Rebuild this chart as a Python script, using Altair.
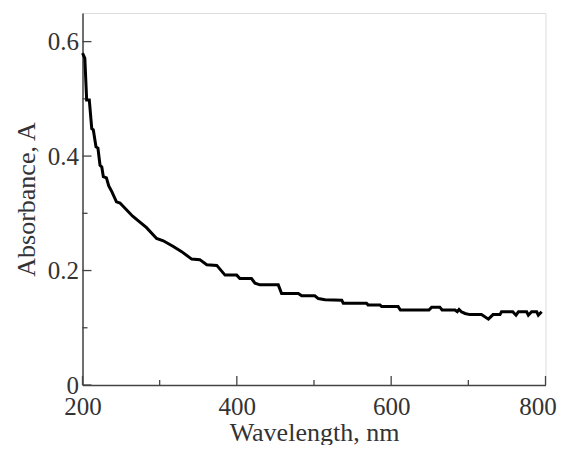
import altair as alt
import pandas as pd

wavelength = [200, 203, 205.4, 208.8, 212, 214, 217.5, 220, 222.7, 225, 227, 231, 234, 238, 244, 248.6,
              265, 283, 296, 304.7, 317.7, 328.5, 341.5, 352, 361, 374, 384.7, 399.8, 404, 419, 423.5,
              430, 453.7, 458, 479.7, 484, 501, 505.6, 514.3, 536, 538, 568, 570, 585.5, 587.7, 609,
              612, 649, 652.5, 663, 666, 682.7, 685.7, 688, 691, 695.7, 702, 717, 726, 732, 741, 743,
              757.5, 761.8, 765, 775.6, 777.8, 782, 788.6, 790.7, 795]
absorbance = [0.580, 0.571, 0.498, 0.498, 0.448, 0.446, 0.416, 0.414, 0.384, 0.381, 0.364, 0.362, 0.348,
              0.338, 0.320, 0.318, 0.295, 0.275, 0.256, 0.252, 0.242, 0.233, 0.220, 0.219, 0.210, 0.209,
              0.192, 0.192, 0.186, 0.186, 0.178, 0.175, 0.175, 0.160, 0.160, 0.156, 0.156, 0.151, 0.149,
              0.148, 0.143, 0.143, 0.140, 0.140, 0.137, 0.137, 0.131, 0.131, 0.136, 0.136, 0.131, 0.131,
              0.128, 0.132, 0.128, 0.125, 0.123, 0.123, 0.115, 0.123, 0.123, 0.128, 0.128, 0.122, 0.128,
              0.128, 0.122, 0.128, 0.128, 0.122, 0.128]

x_major = [200, 400, 600, 800]
x_minor = [300, 500, 700]
y_major = [0, 0.2, 0.4, 0.6]
y_minor = [0.1, 0.3, 0.5]

W, H = 463, 372
FONT = "Liberation Serif"
AXC = "#444444"

df = pd.DataFrame({"wl": wavelength, "A": absorbance})

xscale = alt.Scale(domain=[200, 800], nice=False, zero=False)
yscale = alt.Scale(domain=[0, 0.65], nice=False)

line = alt.Chart(df).mark_line(color="black", strokeWidth=3).encode(
    x=alt.X("wl:Q", scale=xscale,
            axis=alt.Axis(title="Wavelength, nm", values=x_major, tickSize=0, domainColor=AXC,
                          domainWidth=1.5, labelFont=FONT, labelFontSize=25, labelColor="#333",
                          labelPadding=9, labelOffset=alt.expr("datum.value == 800 ? -8 : 0"),
                          titleFont=FONT, titleFontSize=26, titleFontWeight="normal",
                          titleColor="#333", titleY=55, titleBaseline="alphabetic",
                          grid=False, labelFlush=False)),
    y=alt.Y("A:Q", scale=yscale,
            axis=alt.Axis(title="Absorbance, A", values=y_major, format=".1~f", tickSize=0,
                          domainColor=AXC, domainWidth=1.5, labelFont=FONT, labelFontSize=25,
                          labelColor="#333", labelPadding=4, titleFont=FONT, titleFontSize=26,
                          titleFontWeight="normal", titleColor="#333", titlePadding=8, grid=False,
                          labelFlush=False)),
)

def xticks(vals, length):
    d = pd.DataFrame({"wl": vals})
    return alt.Chart(d).mark_rule(color=AXC, strokeWidth=1.3).encode(
        x=alt.X("wl:Q", scale=xscale), y=alt.value(H), y2=alt.value(H - length))

def yticks(vals, length):
    d = pd.DataFrame({"A": vals})
    return alt.Chart(d).mark_rule(color=AXC, strokeWidth=1.3).encode(
        y=alt.Y("A:Q", scale=yscale), x=alt.value(0), x2=alt.value(length))

chart = alt.layer(
    xticks(x_major, 9), xticks(x_minor, 5), yticks(y_major, 9), yticks(y_minor, 5), line
).properties(
    width=W, height=H,
    autosize=alt.AutoSizeParams(type="none"),
    padding={"left": 74.5, "top": 5, "right": 12.5, "bottom": 60},
).configure_view(stroke=AXC, strokeWidth=1.5).configure(background="white")

chart.save("out.html", embed_options={"renderer": "svg", "actions": False})
